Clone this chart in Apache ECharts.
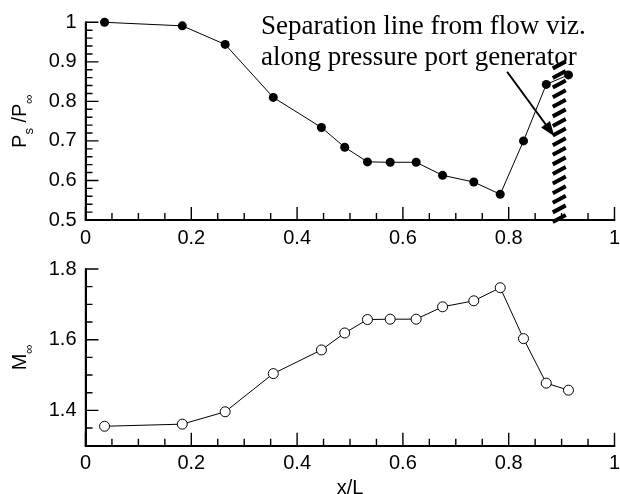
<!DOCTYPE html>
<html><head><meta charset="utf-8">
<script src="https://cdn.jsdelivr.net/npm/echarts@6/dist/echarts.min.js"></script>
<style>html,body{margin:0;padding:0;background:#fff}#c{width:620px;height:494px}</style>
</head><body><div id="c"></div>
<script>
const xPorts = [0.036,0.183,0.264,0.355,0.446,0.490,0.533,0.576,0.625,0.675,0.734,0.784,0.828,0.871,0.913];
const psRatio = [1.0,0.991,0.944,0.810,0.734,0.684,0.647,0.646,0.646,0.613,0.596,0.565,0.700,0.843,0.867];
const mach = [1.355,1.361,1.396,1.504,1.571,1.619,1.657,1.658,1.658,1.693,1.710,1.747,1.603,1.477,1.457];
const xTicks = [0,0.2,0.4,0.6,0.8,1];
const psTicks = [0.5,0.6,0.7,0.8,0.9,1];
const machRange = [1.3, 1.8];
const machTicks = [1.4,1.6,1.8];
const separationX = 0.906;
const separationSpan = [0.495, 0.9];
const arrowFrom = [0.797, 0.875];
const arrowTo = [0.878, 0.727];
const noteLines = ['Separation line from flow viz.', 'along pressure port generator'];

const SANS = '"Liberation Sans", Arial, Helvetica, sans-serif';
const SERIF = '"Liberation Serif", "Times New Roman", serif';
const FS = 20;

// layout (pixels)
const GRID_LEFT = 85.5, GRID_RIGHT = 5.5, GRID_W = 620 - GRID_LEFT - GRID_RIGHT;
const TOP_GRID = {top:22.3, height:197.7};
const BOT_GRID = {top:269, height:176.7};
const MAJOR_LEN = 13, MINOR_LEN = 7;

function steps(a, b, d){ const out=[]; const n=Math.round((b-a)/d); for(let i=0;i<=n;i++) out.push(+(a+i*d).toFixed(4)); return out; }
function isIn(arr, v){ return arr.some(t=>Math.abs(t-v)<1e-6); }
const xMinor = steps(0, 1, 0.05);
const psMinor = steps(0.5, 1, 0.02);
const machMinor = steps(machRange[0], machRange[1], 0.05);

// comb-shaped tick paths (go along the axis line, out and back for each tick)
function xComb(yMin, yRange, gridH){
  const d = [];
  xMinor.forEach(v=>{
    const len = (isIn(xTicks, v) ? MAJOR_LEN : MINOR_LEN) * yRange / gridH;
    d.push([v, yMin], [v, yMin + len], [v, yMin]);
  });
  return d;
}
function yComb(vals, majors, yMin){
  const xRange = xTicks[xTicks.length-1] - xTicks[0];
  const d = [];
  vals.forEach(v=>{
    const len = (isIn(majors, v) ? MAJOR_LEN : MINOR_LEN) * xRange / GRID_W;
    d.push([xTicks[0], v], [xTicks[0] + len, v], [xTicks[0], v]);
  });
  return d;
}
function combSeries(gi, data){
  return {type:'line', xAxisIndex:gi, yAxisIndex:gi, data:data, z:4, clip:false, silent:true,
    showSymbol:false, symbol:'none', smooth:false, animation:false,
    lineStyle:{color:'#000', width:1.4, cap:'butt', join:'bevel'}, emphasis:{disabled:true}, tooltip:{show:false}};
}

function xAxisCfg(gi, withName){
  return {
    type:'value', gridIndex:gi, min:xTicks[0], max:xTicks[xTicks.length-1], interval:0.2,
    axisLine:{show:true, onZero:false, lineStyle:{color:'#000', width:2}},
    axisTick:{show:false}, minorTick:{show:false},
    splitLine:{show:false},
    axisLabel:{color:'#000', fontFamily:SANS, fontSize:FS, margin:8},
    name: withName ? 'x/L' : '', nameLocation:'middle', nameGap:33,
    nameTextStyle:{color:'#000', fontFamily:SANS, fontSize:FS}
  };
}
function richName(){
  return {color:'#000', fontFamily:SANS, fontSize:FS,
    rich:{a:{fontFamily:SANS, fontSize:FS, color:'#000', lineHeight:24, verticalAlign:'bottom'},
          b:{fontFamily:SANS, fontSize:13, color:'#000', lineHeight:24, verticalAlign:'bottom', padding:[0,0,-5,0]}}};
}

const pairsTop = xPorts.map((x,i)=>[x, psRatio[i]]);
const pairsBot = xPorts.map((x,i)=>[x, mach[i]]);

const chart = echarts.init(document.getElementById('c'), null, {renderer:'canvas'});
chart.setOption({
  animation:false,
  backgroundColor:'#fff',
  grid:[
    {left:GRID_LEFT, right:GRID_RIGHT, top:TOP_GRID.top, height:TOP_GRID.height, outerBoundsMode:'none'},
    {left:GRID_LEFT, right:GRID_RIGHT, top:BOT_GRID.top, height:BOT_GRID.height, outerBoundsMode:'none'}
  ],
  xAxis:[xAxisCfg(0,false), xAxisCfg(1,true)],
  yAxis:[
    {
      type:'value', gridIndex:0, min:psTicks[0], max:psTicks[psTicks.length-1], interval:0.1,
      axisLine:{show:true, onZero:false, lineStyle:{color:'#000', width:2}},
      axisTick:{show:false}, minorTick:{show:false},
      splitLine:{show:false},
      axisLabel:{color:'#000', fontFamily:SANS, fontSize:FS, margin:9},
      name:'{a|P}{b|s}{a| /P}{b|∞}', nameLocation:'middle', nameGap:55, nameRotate:90,
      nameTextStyle:richName()
    },
    {
      type:'value', gridIndex:1, min:machRange[0], max:machRange[1], interval:0.1,
      axisLine:{show:true, onZero:false, lineStyle:{color:'#000', width:2}},
      axisTick:{show:false}, minorTick:{show:false},
      splitLine:{show:false},
      axisLabel:{color:'#000', fontFamily:SANS, fontSize:FS, margin:9,
        formatter:function(v){ return isIn(machTicks, v) ? String(+v.toFixed(1)) : ''; }},
      name:'{a|M}{b|∞}', nameLocation:'middle', nameGap:55, nameRotate:90,
      nameTextStyle:richName()
    }
  ],
  graphic:[
    {type:'text', left:261, top:11, silent:true,
     style:{text:noteLines.join('\n'), fontFamily:SERIF, fontSize:27, lineHeight:31, fill:'#000'}}
  ],
  series:[
    {
      type:'custom', xAxisIndex:0, yAxisIndex:0, clip:false, silent:true, z:1,
      data:[[separationX, separationSpan[0], separationSpan[1]]],
      renderItem:function(params, api){
        const top = api.coord([api.value(0), api.value(2)]);
        const bot = api.coord([api.value(0), api.value(1)]);
        const children = [];
        const step = 9.6, w = 13, rise = 7;
        for(let y = bot[1]; y - rise >= top[1] - 1; y -= step){
          children.push({type:'line', shape:{x1:bot[0]-w+1, y1:y, x2:bot[0]+1, y2:y-rise},
            style:{stroke:'#000', lineWidth:4}});
        }
        return {type:'group', children};
      }
    },
    combSeries(0, xComb(psTicks[0], psTicks[psTicks.length-1]-psTicks[0], TOP_GRID.height)),
    combSeries(0, yComb(psMinor, psTicks, psTicks[0])),
    combSeries(1, xComb(machRange[0], machRange[1]-machRange[0], BOT_GRID.height)),
    combSeries(1, yComb(machMinor, machTicks, machRange[0])),
    {
      type:'line', xAxisIndex:0, yAxisIndex:0, data:pairsTop, z:3, clip:false,
      symbol:'circle', symbolSize:9, showSymbol:true,
      lineStyle:{color:'#000', width:1}, itemStyle:{color:'#000'},
      emphasis:{disabled:true},
      markLine:{silent:true, symbol:['none','triangle'], symbolSize:[11,15], label:{show:false},
        lineStyle:{color:'#000', width:2, type:'solid'}, emphasis:{disabled:true},
        data:[[{coord:arrowFrom}, {coord:arrowTo}]]}
    },
    {
      type:'line', xAxisIndex:1, yAxisIndex:1, data:pairsBot, z:3, clip:false,
      symbol:'circle', symbolSize:10, showSymbol:true,
      lineStyle:{color:'#000', width:1}, itemStyle:{color:'#fff', borderColor:'#000', borderWidth:1},
      emphasis:{disabled:true}
    }
  ]
});
</script></body></html>
